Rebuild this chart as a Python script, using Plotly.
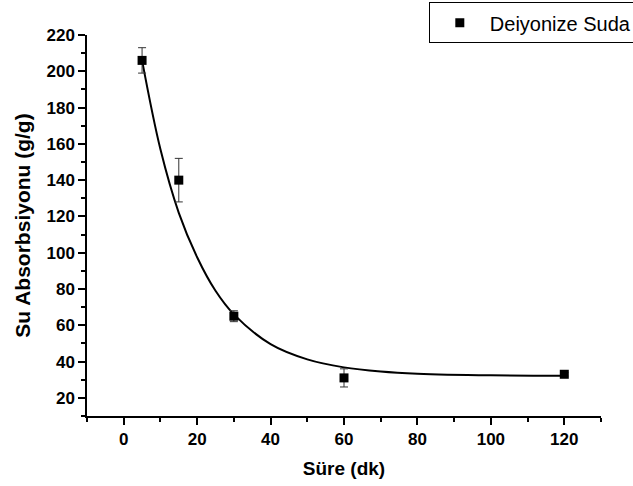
import plotly.graph_objects as go

# Measured data
time_min = [5, 15, 30, 60, 120]
absorption = [206, 140, 65, 31, 33]
abs_err = [7, 12, 3, 5, 1]

# Fitted curve
fit_x = [5, 10, 15, 20, 25, 30, 40, 50, 60, 70, 80, 100, 120]
fit_y = [206, 157, 122, 97.5, 79, 66, 49.6, 41.2, 36.8, 34.5, 33.3, 32.4, 32.2]

x_ticks = [0, 20, 40, 60, 80, 100, 120]
y_ticks = [20, 40, 60, 80, 100, 120, 140, 160, 180, 200, 220]

FONT = "Liberation Sans, Arial, sans-serif"

fig = go.Figure()
fig.add_trace(go.Scatter(
    x=fit_x, y=fit_y, mode="lines", line=dict(color="black", width=2, shape="spline"),
    showlegend=False, hoverinfo="skip"))
fig.add_trace(go.Scatter(
    x=time_min, y=absorption, mode="markers", name="Deiyonize Suda",
    marker=dict(symbol="square", size=9, color="black"),
    error_y=dict(type="data", array=abs_err, visible=True, color="#333333", thickness=1, width=4)))

axis_common = dict(
    showline=True, linecolor="black", linewidth=1.5, mirror=False,
    ticks="outside", ticklen=7, tickwidth=1.5, tickcolor="black",
    showgrid=False, zeroline=False,
    tickfont=dict(family=FONT, size=17, color="black"),
)
minor = dict(dtick=10, tick0=0, ticks="outside", ticklen=4, tickwidth=1.5, tickcolor="black")

fig.update_layout(
    width=633, height=486,
    margin=dict(l=87, r=32, t=35, b=70, autoexpand=False),
    paper_bgcolor="white", plot_bgcolor="white",
    font=dict(family=FONT, color="black"),
    xaxis=dict(axis_common, range=[-10, 130], tickvals=x_ticks,
               ticktext=[f"<b>{v}</b>" for v in x_ticks], minor=minor,
               title=dict(text="<b>Süre (dk)</b>", font=dict(family=FONT, size=19), standoff=14)),
    yaxis=dict(axis_common, range=[10, 220], tickvals=y_ticks,
               ticktext=[f"<b>{v}</b>" for v in y_ticks], minor=minor,
               title=dict(text="<b>Su Absorbsiyonu (g/g)</b>", font=dict(family=FONT, size=21), standoff=10)),
    legend=dict(x=0.665, y=1.086, xanchor="left", yanchor="top",
                bordercolor="black", borderwidth=1, bgcolor="white",
                font=dict(family=FONT, size=20, color="black"),
                itemwidth=50),
)

fig.write_html("out.html")
